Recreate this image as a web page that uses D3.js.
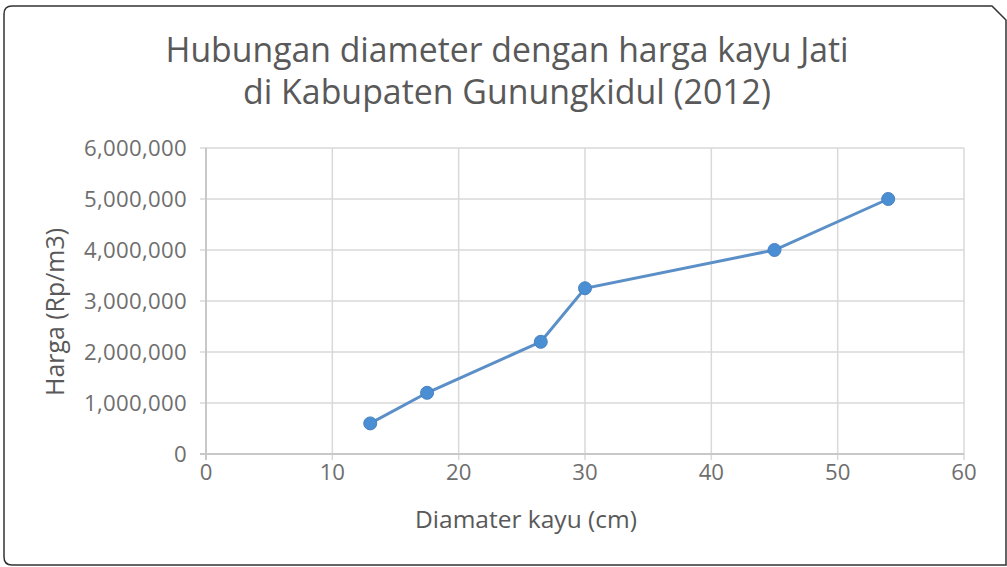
<!DOCTYPE html>
<html>
<head>
<meta charset="utf-8">
<script src="https://cdn.jsdelivr.net/npm/d3@7"></script>
<style>
  html, body { margin: 0; padding: 0; background: #fff; }
  svg { display: block; }
  text { font-family: "Open Sans", sans-serif; fill: #595959; }
</style>
</head>
<body>
<div id="chart"></div>
<script>
// data
const diameters = [13, 17.5, 26.5, 30, 45, 54];
const prices = [600000, 1200000, 2200000, 3250000, 4000000, 5000000];
const xTicks = [0, 10, 20, 30, 40, 50, 60];
const yTicks = [0, 1000000, 2000000, 3000000, 4000000, 5000000, 6000000];
const titleLines = ["Hubungan diameter dengan harga kayu Jati", "di Kabupaten Gunungkidul (2012)"];

const width = 1007, height = 567;
const margin = {top: 148, left: 206, right: 43, bottom: 113};

const svg = d3.select("#chart").append("svg")
  .attr("width", width)
  .attr("height", height);

// scale a text's font so that it spans about the given width
function fitWidth(sel, target) {
  sel.each(function () {
    const fs = parseFloat(this.getAttribute("font-size"));
    const w = this.getComputedTextLength();
    if (w > 0) this.setAttribute("font-size", (fs * target / w).toFixed(2));
  });
}

// outer frame, top right corner cut
svg.append("path")
  .attr("d", "M12,6 L992,6 L1006,20 L1006,565 L12,565 Q4,565 4,557 L4,14 Q4,6 12,6 Z")
  .attr("fill", "#fff")
  .attr("stroke", "#333")
  .attr("stroke-width", 1.5);

const x = d3.scaleLinear().domain([0, 60]).range([margin.left, width - margin.right]);
const y = d3.scaleLinear().domain([0, 6000000]).range([height - margin.bottom, margin.top]);

const grid = svg.append("g");
grid.selectAll(".hg").data(yTicks).enter().append("line")
  .attr("x1", x(0) - 6).attr("x2", x(60))
  .attr("y1", d => y(d)).attr("y2", d => y(d))
  .attr("stroke", "#d9d9d9").attr("stroke-width", 1.5);
grid.selectAll(".vg").data(xTicks).enter().append("line")
  .attr("x1", d => x(d)).attr("x2", d => x(d))
  .attr("y1", y(6000000)).attr("y2", y(0) + 6)
  .attr("stroke", "#d9d9d9").attr("stroke-width", 1.5);

// axis lines a bit darker
svg.append("line")
  .attr("x1", x(0) - 6).attr("x2", x(60)).attr("y1", y(0)).attr("y2", y(0))
  .attr("stroke", "#c8c8c8").attr("stroke-width", 2);
svg.append("line")
  .attr("x1", x(0)).attr("x2", x(0)).attr("y1", y(6000000)).attr("y2", y(0) + 6)
  .attr("stroke", "#c8c8c8").attr("stroke-width", 2);

const fmt = d3.format(",");
const ylabs = svg.selectAll(".ylab").data(yTicks).enter().append("text")
  .attr("x", x(0) - 19)
  .attr("y", d => y(d))
  .attr("dy", "0.36em")
  .attr("text-anchor", "end")
  .attr("font-size", 16)
  .attr("letter-spacing", 0.3)
  .style("fill", "#6e6e6e")
  .text(d => fmt(d));
// "6,000,000" is about 104px wide in the picture
const yFs = 16 * 104 / ylabs.filter(d => d === 6000000).node().getComputedTextLength();
ylabs.attr("font-size", yFs.toFixed(2));

svg.selectAll(".xlab").data(xTicks).enter().append("text")
  .attr("x", d => x(d))
  .attr("y", y(0) + 26)
  .attr("text-anchor", "middle")
  .attr("font-size", yFs.toFixed(2))
  .style("fill", "#6e6e6e")
  .text(d => d);

// titles
const titles = svg.selectAll(".title").data(titleLines).enter().append("text")
  .attr("x", 507)
  .attr("y", (d, i) => 62 + i * 42)
  .attr("text-anchor", "middle")
  .attr("font-size", 28)
  .text(d => d);
fitWidth(titles.filter((d, i) => i === 0), 683);
fitWidth(titles.filter((d, i) => i === 1), 528);

const xTitle = svg.append("text")
  .attr("x", 526)
  .attr("y", 528)
  .attr("text-anchor", "middle")
  .attr("font-size", 18)
  .text("Diamater kayu (cm)");
fitWidth(xTitle, 222);

const yTitle = svg.append("text")
  .attr("transform", "translate(64,312) rotate(-90)")
  .attr("text-anchor", "middle")
  .attr("font-size", 18)
  .text("Harga (Rp/m3)");
fitWidth(yTitle, 168);

// series
const pts = diameters.map((d, i) => [d, prices[i]]);
svg.append("path")
  .datum(pts)
  .attr("fill", "none")
  .attr("stroke", "#5b8fc7")
  .attr("stroke-width", 3)
  .attr("d", d3.line().x(d => x(d[0])).y(d => y(d[1])));

svg.selectAll(".pt").data(pts).enter().append("circle")
  .attr("cx", d => x(d[0]))
  .attr("cy", d => y(d[1]))
  .attr("r", 6.5)
  .attr("fill", "#4a8fd4")
  .attr("stroke", "#4a80c0")
  .attr("stroke-width", 1);
</script>
</body>
</html>
